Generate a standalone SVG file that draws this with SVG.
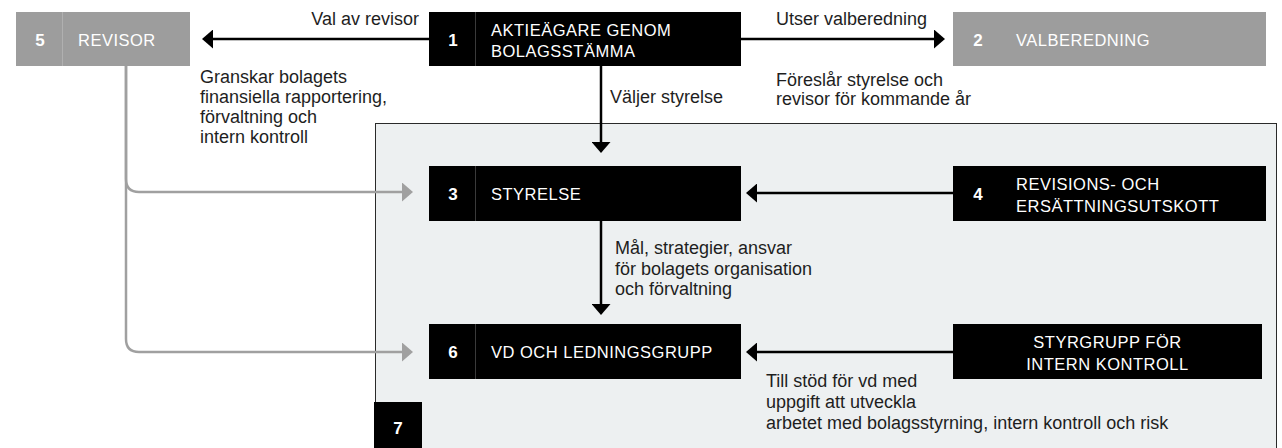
<svg xmlns="http://www.w3.org/2000/svg" width="1282" height="448" viewBox="0 0 1282 448">
<style>
.bk{fill:#000}
.gr{fill:#9d9d9d}
.dv{stroke:#3a3a3a;stroke-width:1}
.dvg{stroke:#b0b0b0;stroke-width:1}
.cap{font-family:"Liberation Sans",Arial,sans-serif;font-size:16.5px;letter-spacing:0.5px;fill:#fff}
.num{font-family:"Liberation Sans",Arial,sans-serif;font-size:17px;font-weight:bold;fill:#fff;text-anchor:middle}
.lbl{font-family:"Liberation Sans",Arial,sans-serif;font-size:18px;fill:#1e1e1e}
.ln{fill:none;stroke:#000;stroke-width:2.5}
.lg{fill:none;stroke:#a0a0a0;stroke-width:2.5}
</style>
<defs>
<marker id="ah" markerUnits="userSpaceOnUse" viewBox="0 0 11 19" refX="7" refY="9.5" markerWidth="11" markerHeight="19" orient="auto">
<path d="M0,0 L11,9.5 L0,19 Z" fill="#000"/>
</marker>
<marker id="ahg" markerUnits="userSpaceOnUse" viewBox="0 0 11 19" refX="7" refY="9.5" markerWidth="11" markerHeight="19" orient="auto">
<path d="M0,0 L11,9.5 L0,19 Z" fill="#a0a0a0"/>
</marker>
</defs>
<rect width="1282" height="448" fill="#fff"/>
<g id="container7">
<rect x="375.5" y="123.5" width="901" height="340" fill="#edf0f1" stroke="#2a2a2a" stroke-width="1"/>
<rect x="374" y="402" width="48" height="50" class="bk"/>
<text x="398" y="434" class="num">7</text>
</g>
<g id="connectors">
<path class="ln" d="M429,39 H206" marker-end="url(#ah)"/>
<path class="ln" d="M741,39 H941" marker-end="url(#ah)"/>
<path class="ln" d="M601,66 V149" marker-end="url(#ah)"/>
<path class="ln" d="M953,193 H750" marker-end="url(#ah)"/>
<path class="ln" d="M601,221 V311" marker-end="url(#ah)"/>
<path class="ln" d="M953,352 H750" marker-end="url(#ah)"/>
<path class="lg" d="M126,66 V179 Q126,192 139,192 H409" marker-end="url(#ahg)"/>
<path class="lg" d="M126,66 V339 Q126,352 139,352 H409" marker-end="url(#ahg)"/>
<text class="lbl" x="419" y="25" text-anchor="end">Val av revisor</text>
<text class="lbl" x="776" y="25">Utser valberedning</text>
<text class="lbl" x="776" y="86">Föreslår styrelse och</text>
<text class="lbl" x="776" y="105">revisor för kommande år</text>
<text class="lbl" x="610" y="103">Väljer styrelse</text>
<text class="lbl" x="200" y="83">Granskar bolagets</text>
<text class="lbl" x="200" y="103">finansiella rapportering,</text>
<text class="lbl" x="200" y="123">förvaltning och</text>
<text class="lbl" x="200" y="143">intern kontroll</text>
<text class="lbl" x="615" y="254">Mål, strategier, ansvar</text>
<text class="lbl" x="615" y="275">för bolagets organisation</text>
<text class="lbl" x="615" y="295">och förvaltning</text>
<text class="lbl" x="766" y="387">Till stöd för vd med</text>
<text class="lbl" x="766" y="408">uppgift att utveckla</text>
<text class="lbl" x="766" y="429">arbetet med bolagsstyrning, intern kontroll och risk</text>
</g>
<g id="node5">
<rect x="16" y="12" width="174" height="54" class="gr"/>
<line x1="62.5" y1="12" x2="62.5" y2="66" class="dvg"/>
<text x="40" y="45.5" class="num">5</text>
<text x="78" y="45.5" class="cap">REVISOR</text>
</g>
<g id="node1">
<rect x="429" y="12" width="312" height="54" class="bk"/>
<line x1="475.5" y1="12" x2="475.5" y2="66" class="dv"/>
<text x="453" y="45.5" class="num">1</text>
<text x="491" y="36" class="cap">AKTIEÄGARE GENOM</text>
<text x="491" y="57" class="cap">BOLAGSSTÄMMA</text>
</g>
<g id="node2">
<rect x="953" y="12" width="313" height="54" class="gr"/>
<text x="978" y="45.5" class="num">2</text>
<text x="1016" y="45.5" class="cap">VALBEREDNING</text>
</g>
<g id="node3">
<rect x="429" y="166" width="312" height="55" class="bk"/>
<line x1="475.5" y1="166" x2="475.5" y2="221" class="dv"/>
<text x="453" y="199.5" class="num">3</text>
<text x="491" y="199.5" class="cap">STYRELSE</text>
</g>
<g id="node4">
<rect x="953" y="166" width="313" height="55" class="bk"/>
<text x="978" y="200" class="num">4</text>
<text x="1016" y="189.5" class="cap">REVISIONS- OCH</text>
<text x="1016" y="211.5" class="cap">ERSÄTTNINGSUTSKOTT</text>
</g>
<g id="node6">
<rect x="429" y="324" width="312" height="55" class="bk"/>
<line x1="475.5" y1="324" x2="475.5" y2="379" class="dv"/>
<text x="453" y="358" class="num">6</text>
<text x="491" y="358" class="cap">VD OCH LEDNINGSGRUPP</text>
</g>
<g id="nodeStyrgrupp">
<rect x="953" y="324" width="309" height="55" class="bk"/>
<text x="1107.5" y="348" class="cap" text-anchor="middle">STYRGRUPP FÖR</text>
<text x="1107.5" y="370" class="cap" text-anchor="middle">INTERN KONTROLL</text>
</g>
</svg>
